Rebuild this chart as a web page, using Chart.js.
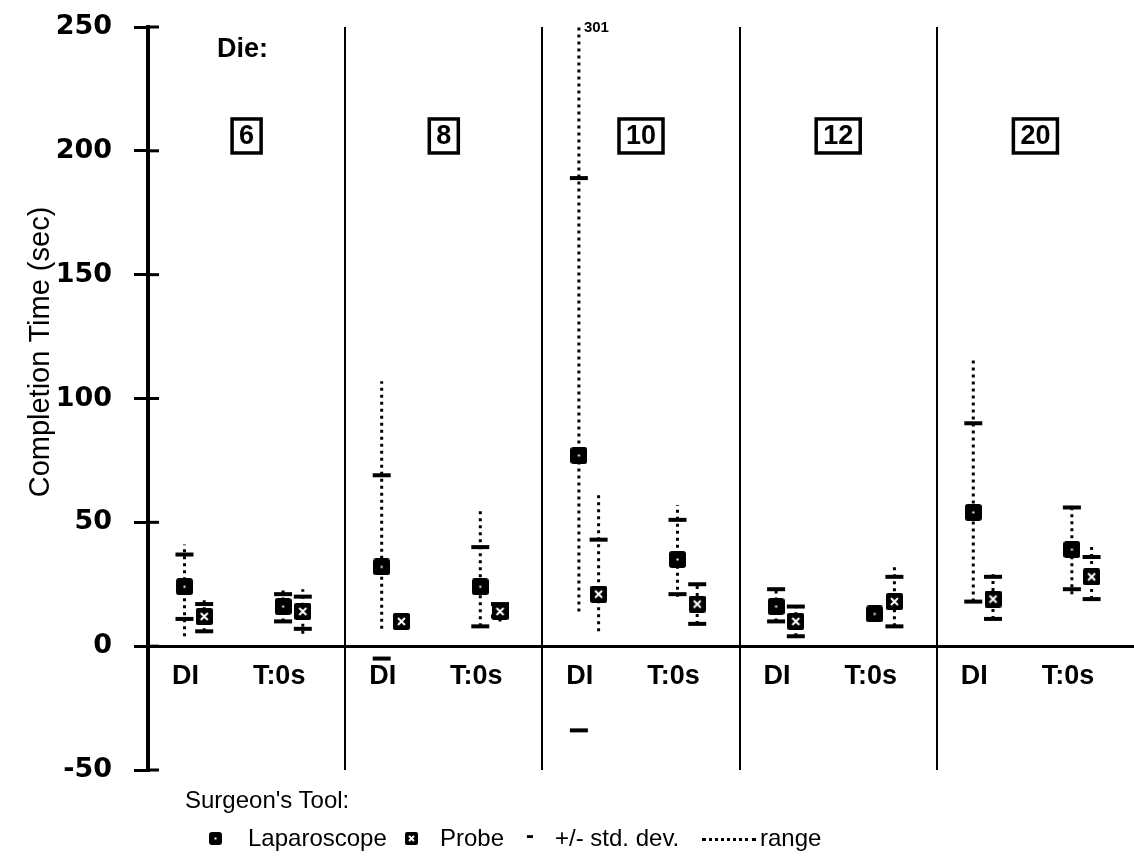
<!DOCTYPE html>
<html>
<head>
<meta charset="utf-8">
<script src="https://cdn.jsdelivr.net/npm/chart.js@4.4.1/dist/chart.umd.min.js"></script>
<style>
  html, body { margin: 0; padding: 0; background: #fff; }
  #wrap { position: relative; width: 1134px; height: 858px; overflow: hidden; }
  #chart { position: absolute; left: 0; top: 0; }
  .lg { position: absolute; font-family: "Liberation Sans", Arial, sans-serif; font-size: 24px; line-height: 1; color: #000; white-space: nowrap; }
  .mk { position: absolute; }
  .dots { position: absolute; border-top: 3px dotted #000; }
</style>
</head>
<body>
<div id="wrap">
  <canvas id="chart" width="1134" height="858"></canvas>
  <div class="lg" style="left:185px; top:788px;">Surgeon's Tool:</div>
  <canvas class="mk" id="lgLap" width="13" height="13" style="left:209px; top:832px;"></canvas>
  <div class="lg" style="left:248px; top:826px;">Laparoscope</div>
  <canvas class="mk" id="lgProbe" width="13" height="13" style="left:405px; top:832px;"></canvas>
  <div class="lg" style="left:440px; top:826px;">Probe</div>
  <div class="lg" style="left:526px; top:823px; font-weight:bold;">-</div>
  <div class="lg" style="left:555px; top:826px;">+/- std. dev.</div>
  <div class="dots" style="left:702px; top:838px; width:54px;"></div>
  <div class="lg" style="left:760px; top:826px;">range</div>
</div>
<script>
// categories (two per die size) and die sizes
const categories = ['DI', 'T:0s', 'DI', 'T:0s', 'DI', 'T:0s', 'DI', 'T:0s', 'DI', 'T:0s'];
const dieSizes = ['6', '8', '10', '12', '20'];
const yTicks = [-50, 0, 50, 100, 150, 200, 250];

// Laparoscope: mean, +/- std. dev. and range (sec)
const lapMean = [24, 16, 32, 24, 77, 35, 16, 13, 54, 39];
const lapSdHi = [37, 21, 69, 40, 189, 51, 23, null, 90, 56];
const lapSdLo = [11, 10, -5, 8, -34, 21, 10, null, 18, 23];
const lapMax  = [41, 24, 107, 56, 301, 57, 24, null, 117, 56];
const lapMin  = [4, 10, 7, 8, 14, 20, 10, null, 18, 21];

// Probe: mean, +/- std. dev. and range (sec)
const probeMean = [12, 14, 10, 14, 21, 17, 10, 18, 19, 28];
const probeSdHi = [17, 20, null, 17, 43, 25, 16, 28, 28, 36];
const probeSdLo = [6, 7, null, 12, null, 9, 4, 8, 11, 19];
const probeMax  = [20, 23, null, 18, 62, 25, 17, 32, 29, 41];
const probeMin  = [6, 5, null, 10, 6, 9, 4, 8, 11, 19];

// x placement on a 0..10 linear scale, 2 units per die group
function labelPos(i) {
  return Math.floor(i / 2) * 2 + (i % 2 ? 1.33 : 0.38);
}
function xPos(i, series) {
  return Math.floor(i / 2) * 2 + (i % 2 ? 1.37 : 0.37) + (series ? 0.2 : 0);
}

function points(values, series) {
  const pts = [];
  values.forEach((v, i) => { if (v != null) pts.push({ x: xPos(i, series), y: v }); });
  return pts;
}

function rangePoints(mins, maxs, series) {
  const pts = [];
  mins.forEach((lo, i) => {
    if (lo == null) return;
    const x = xPos(i, series);
    pts.push({ x, y: lo }, { x, y: maxs[i] }, { x, y: null });
  });
  return pts;
}

// marker images
function lapMarker(size) {
  const c = document.createElement('canvas');
  c.width = size; c.height = size;
  const g = c.getContext('2d');
  g.fillStyle = '#000';
  g.beginPath();
  g.roundRect(0, 0, size, size, 3);
  g.fill();
  g.fillStyle = '#fff';
  g.fillRect(size / 2 - 1, size / 2 - 1, 2, 2);
  return c;
}
function probeMarker(size) {
  const c = document.createElement('canvas');
  c.width = size; c.height = size;
  const g = c.getContext('2d');
  g.fillStyle = '#000';
  g.beginPath();
  g.roundRect(0, 0, size, size, 2);
  g.fill();
  g.strokeStyle = '#fff';
  g.lineWidth = 2;
  const p = Math.round(size * 0.27);
  g.beginPath();
  g.moveTo(p, p); g.lineTo(size - p, size - p);
  g.moveTo(size - p, p); g.lineTo(p, size - p);
  g.stroke();
  return c;
}

// legend markers
document.getElementById('lgLap').getContext('2d').drawImage(lapMarker(13), 0, 0);
document.getElementById('lgProbe').getContext('2d').drawImage(probeMarker(13), 0, 0);

// keep the plot area where the layout padding puts it
function noPadding(axis) {
  axis.paddingTop = 0;
  axis.paddingBottom = 0;
  axis.paddingLeft = 0;
  axis.paddingRight = 0;
}

const annotate = {
  id: 'annotate',
  afterDraw(chart) {
    const { ctx, chartArea } = chart;
    const x = chart.scales.x;
    const y = chart.scales.y;
    ctx.save();
    ctx.fillStyle = '#000';
    ctx.strokeStyle = '#000';

    // inner half of the y tick marks
    ctx.lineWidth = 3;
    yTicks.forEach(v => {
      const py = y.getPixelForValue(v);
      ctx.beginPath();
      ctx.moveTo(chartArea.left, py);
      ctx.lineTo(chartArea.left + 11, py);
      ctx.stroke();
    });

    // y title
    ctx.save();
    ctx.translate(41, 352);
    ctx.rotate(-Math.PI / 2);
    ctx.font = '29px "Liberation Sans", Arial, sans-serif';
    ctx.textAlign = 'center';
    ctx.textBaseline = 'middle';
    ctx.fillText('Completion Time (sec)', 0, 0);
    ctx.restore();

    // "Die:"
    ctx.font = 'bold 27px "Liberation Sans", Arial, sans-serif';
    ctx.textAlign = 'left';
    ctx.textBaseline = 'middle';
    ctx.fillText('Die:', x.getPixelForValue(0.7), y.getPixelForValue(241));

    // boxed die sizes
    ctx.font = 'bold 27px "Liberation Sans", Arial, sans-serif';
    ctx.textAlign = 'center';
    ctx.lineWidth = 3.5;
    dieSizes.forEach((d, gI) => {
      const px = x.getPixelForValue(gI * 2 + 1);
      const py = y.getPixelForValue(206);
      const w = ctx.measureText(d).width + 14;
      ctx.strokeRect(px - w / 2, py - 17, w, 34);
      ctx.fillText(d, px, py + 1);
    });

    // off-scale range maximum
    ctx.font = 'bold 15px "Liberation Sans", Arial, sans-serif';
    ctx.textAlign = 'left';
    ctx.fillText(String(lapMax[4]), x.getPixelForValue(xPos(4, 0)) + 5, chartArea.top + 1);
    ctx.restore();
  }
};

const ctx = document.getElementById('chart');
new Chart(ctx, {
  type: 'scatter',
  data: {
    datasets: [
      {
        label: 'Laparoscope',
        data: points(lapMean, 0),
        pointStyle: lapMarker(17),
        order: 0
      },
      {
        label: 'Probe',
        data: points(probeMean, 1),
        pointStyle: probeMarker(17),
        order: 0
      },
      {
        label: '+/- std. dev.',
        data: points(lapSdHi, 0).concat(points(lapSdLo, 0), points(probeSdHi, 1), points(probeSdLo, 1)),
        pointStyle: 'line',
        pointRadius: 9,
        borderWidth: 4,
        borderColor: '#000',
        order: 1
      },
      {
        label: 'range',
        data: rangePoints(lapMin, lapMax, 0).concat(rangePoints(probeMin, probeMax, 1)),
        showLine: true,
        spanGaps: false,
        pointRadius: 0,
        borderColor: '#000',
        borderWidth: 3,
        borderDash: [3, 4],
        order: 2
      }
    ]
  },
  options: {
    responsive: false,
    animation: false,
    devicePixelRatio: 1,
    layout: { autoPadding: false, padding: { top: 27, bottom: 88, left: 0, right: 0 } },
    plugins: {
      legend: { display: false },
      tooltip: { enabled: false }
    },
    scales: {
      x: {
        type: 'linear',
        min: 0,
        max: 10,
        position: { y: 0 },
        afterBuildTicks: axis => { axis.ticks = categories.map((c, i) => ({ value: labelPos(i) })); },
        afterFit: noPadding,
        ticks: {
          autoSkip: false,
          maxRotation: 0,
          padding: 14,
          color: '#000',
          font: { family: '"Liberation Sans", Arial, sans-serif', size: 27, weight: 'bold' },
          callback: (v, i) => categories[i]
        },
        grid: { display: false, drawTicks: false },
        border: { display: true, color: '#000', width: 3 }
      },
      xd: {
        type: 'linear',
        axis: 'x',
        min: 0,
        max: 10,
        position: { y: 0 },
        afterBuildTicks: axis => { axis.ticks = dieSizes.slice(1).map((d, i) => ({ value: (i + 1) * 2 })); },
        afterFit: noPadding,
        ticks: { display: false },
        grid: { color: '#000', lineWidth: 2, drawTicks: false },
        border: { display: false }
      },
      y: {
        type: 'linear',
        min: -50,
        max: 250,
        position: 'left',
        afterBuildTicks: axis => { axis.ticks = yTicks.map(v => ({ value: v })); },
        afterFit: axis => { axis.width = 148; noPadding(axis); },
        ticks: {
          padding: 22,
          color: '#000',
          font: { family: '"DejaVu Sans", sans-serif', size: 27, weight: 'bold' }
        },
        grid: { drawOnChartArea: false, tickLength: 14, lineWidth: 3, color: '#000' },
        border: { display: true, color: '#000', width: 4 }
      }
    }
  },
  plugins: [annotate]
});
</script>
</body>
</html>
